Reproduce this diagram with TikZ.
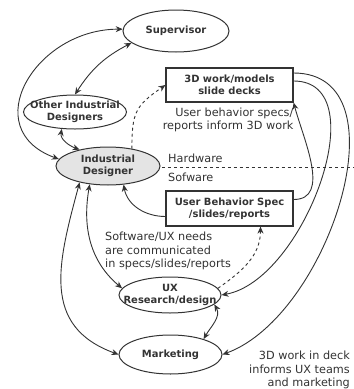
\documentclass[tikz,border=0pt]{standalone}
\usepackage{fontspec}
\setmainfont{DejaVu Sans}
\usepackage{tikz}
\usetikzlibrary{shapes,arrows.meta,positioning,calc}
\usepackage{xcolor}
\definecolor{inkgray}{HTML}{333333}
\definecolor{idfill}{HTML}{E4E4E4}

\begin{document}
\begin{tikzpicture}[x=1bp, y=1bp, >={Stealth[length=7bp,width=6bp]},
    every node/.style={text=inkgray},
    role/.style={draw=inkgray, line width=1bp, ellipse, inner xsep=-15bp, inner ysep=-6bp, align=center, font=\fontsize{10}{12}\selectfont\bfseries},
    doc/.style={draw=inkgray, line width=1.2bp, rectangle, inner sep=0pt, minimum width=127bp, align=center, font=\fontsize{10}{12}\selectfont\bfseries},
    note/.style={inner sep=0pt, font=\fontsize{11.3}{13.6}\selectfont},
    link/.style={draw=inkgray, line width=0.9bp}]
    \useasboundingbox (0,0) rectangle (354,-389);

    % people
    \node[role, minimum width=106bp, minimum height=42bp] (sup) at (176,-31) {Supervisor};
    \node[role, minimum width=103bp, minimum height=34bp] (oid) at (75,-112) {Other Industrial\\Designers};
    \node[role, fill=idfill, minimum width=104bp, minimum height=38bp] (ind) at (108,-166) {Industrial\\Designer};
    \node[role, minimum width=102bp, minimum height=36bp] (ux) at (170,-295) {UX\\Research/design};
    \node[role, minimum width=103bp, minimum height=39bp] (mkt) at (170.5,-354.5) {Marketing};

    % documents
    \node[doc, minimum height=34bp] (work) at (229.5,-85) {3D work/models\\slide decks};
    \node[doc, minimum height=35bp] (spec) at (229.5,-208.5) {User Behavior Spec\\/slides/reports};

    % notes
    \node[note, align=right, anchor=north east] (infonote) at ([yshift=-5bp]work.south east) {User behavior specs/\\reports inform 3D work};
    \node[note, anchor=west] (hw) at (168,-158) {Hardware};
    \node[note, anchor=west] (sw) at (168,-177) {Sofware};
    \node[note, align=left, anchor=west] (uxnote) at (105,-251) {Software/UX needs\\are communicated\\in specs/slides/reports};
    \node[note, align=right, anchor=east] (decknote) at (350,-370) {3D work in deck\\informs UX teams\\and marketing};

    % hardware / software divide
    \coordinate (divl) at (162,-167);
    \coordinate (divr) at (354,-167);
    \draw[link, dashed] (divl) -- (divr);

    % connectors
    \draw[link, <->] (sup.178) to[out=180, in=160, looseness=1.55] (ind.172);
    \draw[link, <->] (oid.north) to[bend left=15] (sup.195);
    \draw[link, <->] (oid.232) to[out=-100, in=160] (ind.150);
    \draw[link, dashed, ->] (ind.36) to[out=90, in=215, looseness=1.3] (work.west);
    \draw[link, ->] ([yshift=-8bp]spec.west) to[out=180, in=-80] (ind.-50);
    \draw[link, ->] ([yshift=9bp]spec.east) to[out=0, in=-75] (work.south east);
    \draw[link, ->] ([yshift=4bp]work.east) to[out=0, in=10, looseness=0.95] (ux.east);
    \draw[link, ->] ([yshift=12bp]work.east) to[out=0, in=20] (mkt.east);
    \draw[link, dashed, ->] (ux.8) to[out=35, in=-90] ([xshift=31bp]spec.south);
    \draw[link, <->] (ind.-135) to[out=-100, in=140] (ux.172);
    \draw[link, <->] (ind.-150) to[out=-105, in=160, looseness=1.2] (mkt.west);
    \draw[link, <->] (ux.-12) to[out=-60, in=60] (mkt.25);
\end{tikzpicture}
\end{document}
